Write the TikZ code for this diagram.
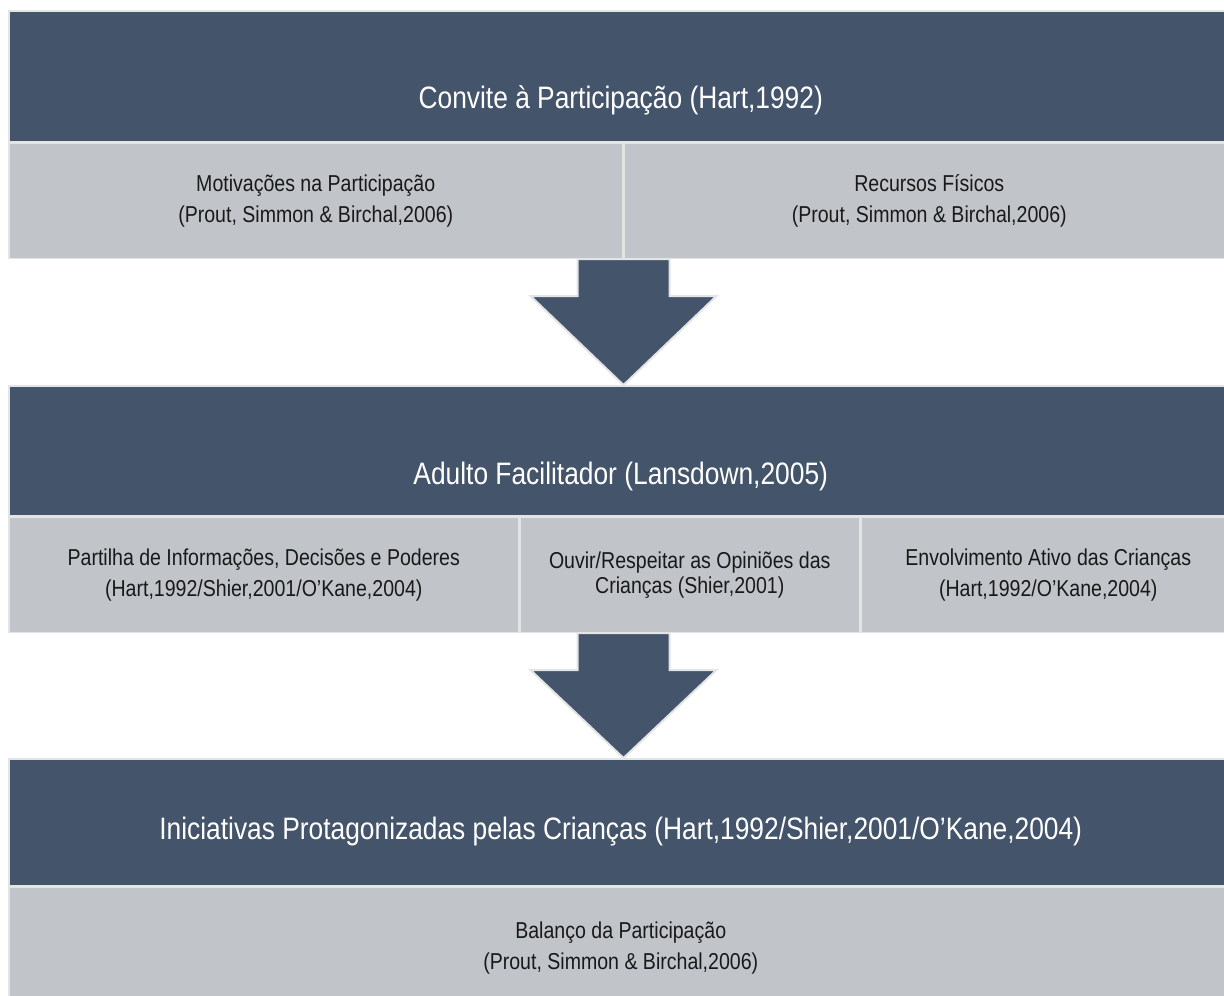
\documentclass[tikz,border=0pt]{standalone}
\usepackage{fontspec}
\setmainfont[FakeStretch=0.85]{Liberation Sans}
\usetikzlibrary{calc}

\begin{document}
\begin{tikzpicture}[x=1pt,y=-1pt]

	\def\xl{8}
	\def\shaft{46}
	\def\head{93}
	\def\neck{37}

	% Colours
	\definecolor{darkcolor}{HTML}{44546A}
	\definecolor{lightcolor}{HTML}{C1C4C9}
	\definecolor{edgecolor}{HTML}{E3E4E6}

	% Styles
	\tikzstyle{darkbox}=[fill=darkcolor, draw=edgecolor, line width=1.5pt, anchor=north west, inner sep=0pt]
	\tikzstyle{lightbox}=[fill=lightcolor, draw=edgecolor, line width=1.5pt, anchor=north west, inner sep=0pt, align=center, text=black!90, font=\fontsize{23}{31}\selectfont]
	\tikzstyle{titletext}=[text=white, font=\fontsize{31}{36}\selectfont]
	\tikzstyle{bigarrow}=[fill=darkcolor, draw=edgecolor, line width=2pt, line join=miter]

	\useasboundingbox (0,0) rectangle (1224,996);

	% First level
	\node[darkbox, minimum width=1224pt, minimum height=131pt] (convite) at (\xl,10) {};
	\node[titletext] (convitetxt) at ($(convite.center)+(0,24)$) {Convite à Participação (Hart,1992)};
	\node[lightbox, minimum width=614pt, minimum height=115pt] (motivacoes) at (convite.south west)
		{Motivações na Participação\\(Prout, Simmon \& Birchal,2006)};
	\node[lightbox, minimum width=610pt, minimum height=115pt] (recursos) at (motivacoes.north east)
		{Recursos Físicos\\(Prout, Simmon \& Birchal,2006)};

	% Second level
	\node[darkbox, minimum width=1224pt, minimum height=130pt] (adulto) at (\xl,385) {};
	\node[titletext] (adultotxt) at ($(adulto.center)+(0,26)$) {Adulto Facilitador (Lansdown,2005)};
	\node[lightbox, minimum width=510pt, minimum height=115pt] (partilha) at (adulto.south west)
		{Partilha de Informações, Decisões e Poderes\\(Hart,1992/Shier,2001/O’Kane,2004)};
	\node[lightbox, minimum width=339pt, minimum height=115pt, font=\fontsize{23}{25}\selectfont] (ouvir) at (partilha.north east)
		{Ouvir/Respeitar as Opiniões das\\Crianças (Shier,2001)};
	\node[lightbox, minimum width=375pt, minimum height=115pt] (envolvimento) at (ouvir.north east)
		{Envolvimento Ativo das Crianças\\(Hart,1992/O’Kane,2004)};

	% Third level
	\node[darkbox, minimum width=1224pt, minimum height=127pt] (iniciativas) at (\xl,758) {};
	\node[titletext] (iniciativastxt) at ($(iniciativas.center)+(0,9)$)
		{Iniciativas Protagonizadas pelas Crianças (Hart,1992/Shier,2001/O’Kane,2004)};
	\node[lightbox, minimum width=1224pt, minimum height=122pt] (balanco) at (iniciativas.south west)
		{Balanço da Participação\\(Prout, Simmon \& Birchal,2006)};

	% Arrows
	\coordinate (A1) at (motivacoes.south east);
	\coordinate (T1) at (A1 |- adulto.north);
	\draw[bigarrow] ($(A1)+(-\shaft,0)$) -- ($(A1)+(\shaft,0)$) -- ++(0,\neck) -- ($(A1)+(\head,\neck)$)
		-- (T1) -- ($(A1)+(-\head,\neck)$) -- ($(A1)+(-\shaft,\neck)$) -- cycle;

	\coordinate (A2) at (A1 |- partilha.south);
	\coordinate (T2) at (A2 |- iniciativas.north);
	\draw[bigarrow] ($(A2)+(-\shaft,0)$) -- ($(A2)+(\shaft,0)$) -- ++(0,\neck) -- ($(A2)+(\head,\neck)$)
		-- (T2) -- ($(A2)+(-\head,\neck)$) -- ($(A2)+(-\shaft,\neck)$) -- cycle;

\end{tikzpicture}
\end{document}
